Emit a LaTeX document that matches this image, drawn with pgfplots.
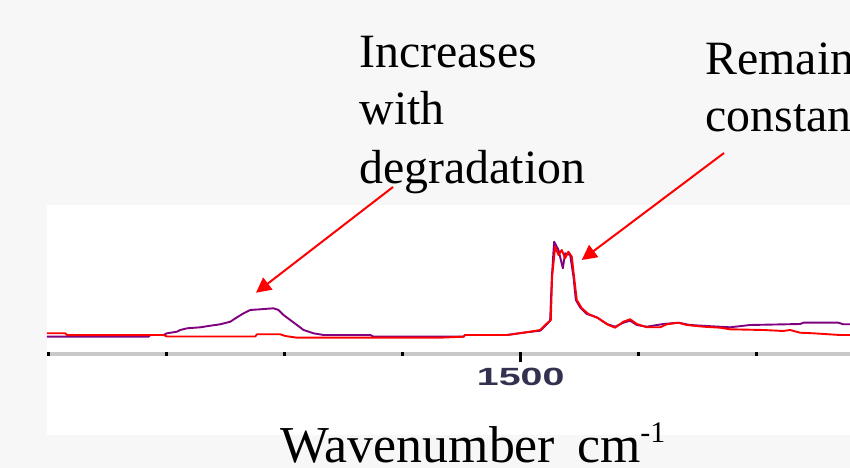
\documentclass[border=0pt]{standalone}
\usepackage{pgfplots}
\pgfplotsset{compat=1.18}
\usepackage{fontspec}
\setmainfont{Liberation Serif}
\newfontfamily\arialb{Liberation Sans}
\usetikzlibrary{arrows.meta}
\definecolor{slidebg}{RGB}{247,247,247}
\definecolor{specpurple}{RGB}{128,0,128}
\definecolor{specred}{RGB}{255,0,0}
\definecolor{axgrey}{RGB}{200,200,200}
\definecolor{ticklab}{RGB}{50,50,80}
\begin{document}
\begin{tikzpicture}
\useasboundingbox (0,0) rectangle (850bp,468bp);
\clip (0,0) rectangle (850bp,468bp);
\fill[slidebg] (0,0) rectangle (850bp,468bp);
\fill[white] (47bp,33bp) rectangle (850bp,263bp);
\draw[axgrey, line width=4bp] (47bp,114bp) -- (850bp,114bp);
\begin{axis}[
  at={(47bp,114bp)}, anchor=south west,
  width=803bp, height=149bp, scale only axis,
  x dir=reverse,
  xmin=1221, xmax=1901.4,
  ymin=0, ymax=149,
  axis line style={draw=none},
  ytick=\empty,
  xtick pos=bottom,
  xtick={1500}, xticklabels={1500},
  minor xtick={1900,1800,1700,1600,1400,1300},
  tick align=center,
  major tick length=10bp, minor tick length=4bp,
  every major tick/.style={draw=black, line width=3bp, yshift=-3bp},
  every minor tick/.style={draw=black, line width=3bp},
  xticklabel style={font=\arialb\bfseries\fontsize{25}{25}\selectfont, text=ticklab, xscale=1.58, anchor=north, yshift=-6bp},
  clip=false,
  xlabel={Wavenumber\hspace{22bp}cm\raisebox{20bp}{\fontsize{30}{30}\selectfont -1}},
  x label style={at={(axis description cs:0.2902,-0.7315)}, anchor=base west, inner sep=0pt, font=\fontsize{52}{60}\selectfont},
]
\addplot[specpurple, line width=1.9bp, line join=round] coordinates {
(1901.4,17.3) (1815.3,17.3) (1813.9,19) (1802.6,19) (1799.7,20.7) (1791.3,22.3)
(1788.5,24) (1782.8,25.7) (1771.5,26.7) (1763,28.3) (1754.6,29.7) (1746.1,32.3)
(1740.4,36.7) (1734.8,40.7) (1729.2,44) (1720.7,44.7) (1709.4,45.7) (1705.2,44)
(1701,39) (1695.3,34) (1689.6,29) (1684,24) (1675.6,20.7) (1667.1,19)
(1627.5,19) (1624.7,17.3) (1579.5,17.3) (1548.5,17.3) (1547.1,19) (1511.7,19)
(1497.7,21.3) (1483.5,23.3) (1479.3,28) (1475.1,33.3) (1473.6,77.3) (1471.7,112.3)
(1468,104) (1464.3,85.7) (1462.4,100.7) (1458.1,99) (1455.3,77.3) (1453.3,54)
(1449.7,46.7) (1444,40) (1435.5,36.7) (1427.1,30) (1420,27.3) (1413,31.3)
(1407.3,33.3) (1401.6,29) (1393.2,27.3) (1379.1,30) (1366.4,31.3) (1356.5,29)
(1342.4,28) (1322.6,26.7) (1305.7,29) (1263.3,30) (1260.5,31.3) (1230.9,31.3)
(1226.7,29.7) (1221,29.7)
};
\addplot[specred, line width=1.9bp, line join=round] coordinates {
(1901.4,20.7) (1885.9,20.7) (1884.4,19) (1802.6,19) (1799.7,17.5) (1724.9,17.5)
(1723.5,19.7) (1703.8,19.7) (1699.5,18) (1689.6,16.3) (1568.2,16.3) (1548.5,17.3)
(1547.1,19) (1511.7,19) (1497.7,21.3) (1483.5,24) (1479.3,29) (1474.5,34)
(1473.4,77.3) (1470.8,107.3) (1468,99) (1465.2,104) (1462.4,95.7) (1459.6,102.3)
(1456.7,97.3) (1454.8,77.3) (1452.5,54) (1448.2,45.7) (1442.6,40) (1434.2,35.7)
(1425.7,29) (1420,26.3) (1413,32.3) (1407.3,34.7) (1401.6,30) (1393.2,26.7)
(1381.9,26.7) (1376.2,29.7) (1366.4,31.3) (1359.3,29) (1345.2,27.3) (1331.1,26.3)
(1322.6,24.7) (1294.4,24) (1277.5,23) (1271.8,24) (1263.3,21.3) (1252.1,20.7)
(1229.5,19) (1221,19)
};
\end{axis}
\begin{scope}[every node/.style={inner sep=0pt, outer sep=0pt, anchor=base west, font=\fontsize{48}{58}\selectfont}]
\node at (359.5bp,400.3bp) {Increases};
\node at (359.5bp,343bp) {with};
\node at (359.5bp,284.7bp) {degradation};
\node at (705.5bp,393.7bp) {Remains};
\node at (705.5bp,336.3bp) {constant};
\end{scope}
\draw[specred, line width=2bp, -{Triangle[length=15bp, width=15bp]}] (393bp,281bp) -- (256bp,175.3bp);
\draw[specred, line width=2bp, -{Triangle[length=15bp, width=15bp]}] (724bp,315bp) -- (581.7bp,208bp);
\end{tikzpicture}
\end{document}
